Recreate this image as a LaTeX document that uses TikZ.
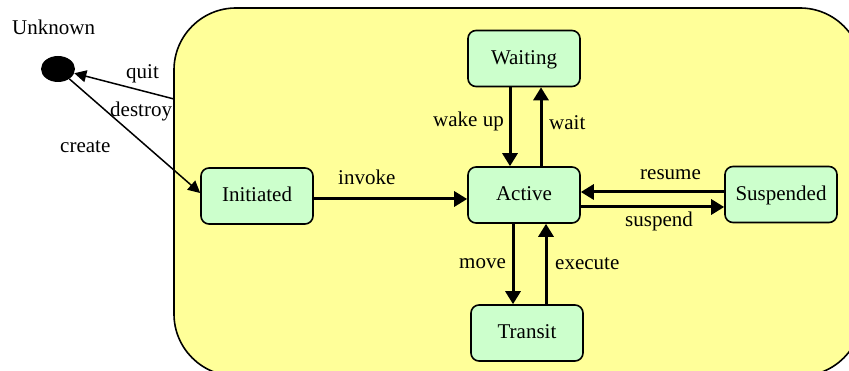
\documentclass[tikz,border=0pt]{standalone}
\usepackage{fontspec}
\setmainfont{Liberation Serif}
\usetikzlibrary{arrows.meta,shapes.geometric}
\definecolor{sysfill}{HTML}{FFFF99}
\definecolor{statefill}{HTML}{CCFFCC}
\begin{document}
\begin{tikzpicture}[x=1pt,y=-1pt,
  font=\fontsize{21}{24}\selectfont,
  state/.style={draw, line width=1.6pt, rounded corners=8pt, fill=statefill,
    minimum width=112pt, minimum height=56pt, inner sep=0pt,
    text height=14pt, text depth=2.5pt},
  trans/.style={line width=3pt, -{Triangle[length=13pt,width=15pt]}},
  thinarrow/.style={line width=1.5pt, -{Triangle[length=12pt,width=12pt]}},
  lbl/.style={anchor=base west, inner sep=0pt}]
\useasboundingbox (0,0) rectangle (849,371);
\clip (0,0) rectangle (849,371);
\fill[white] (0,0) rectangle (849,371);

% enclosing composite state
\node[draw, line width=1.6pt, fill=sysfill, rounded corners=62pt,
  minimum width=688pt, minimum height=368pt, inner sep=0pt] (system) at (518,192) {};

% states
\node[state] (waiting)   at (524,58.5)  {Waiting};
\node[state] (active)    at (524,195)   {Active};
\node[state] (suspended) at (781,194.5) {Suspended};
\node[state] (transit)   at (527,333)   {Transit};
\node[state] (initiated) at (257,196)   {Initiated};

% outside pseudo-state
\node[ellipse, fill=black, minimum width=34pt, minimum height=26pt, inner sep=0pt]
  (unknown) at (58,69) {};
\node[lbl] (unknownlabel) at (12,34.5) {Unknown};

% transitions
\coordinate (exitpt) at (174,99);
\draw[thinarrow] (exitpt) -- (unknown);
\draw[thinarrow] (unknown) -- ([yshift=3pt]initiated.west);

\coordinate (inv) at ([yshift=-3pt]initiated.east);
\draw[trans] (inv) -- (inv -| active.west);

\draw[trans] ([xshift=-14pt]waiting.south) -- ([xshift=-14pt]active.north);
\draw[trans] ([xshift=17pt]active.north) -- ([xshift=17pt]waiting.south);

\coordinate (res) at ([yshift=3pt]active.east);
\draw[trans] (res -| suspended.west) -- (res);
\coordinate (sus) at ([yshift=-12pt]active.east);
\draw[trans] (sus) -- (sus -| suspended.west);

\coordinate (mov) at ([xshift=-11pt]active.south);
\draw[trans] (mov) -- (mov |- transit.north);
\coordinate (exe) at ([xshift=22pt]active.south);
\draw[trans] (exe |- transit.north) -- (exe);

% transition labels
\node[lbl] (lquit)    at (126,78.5)  {quit};
\node[lbl] (ldestroy) at (110,116.5) {destroy};
\node[lbl] (lcreate)  at (60,152.5)  {create};
\node[lbl] (linvoke)  at (338,184.5) {invoke};
\node[lbl] (lwake)    at (433,126.5) {wake up};
\node[lbl] (lwait)    at (549,129.5) {wait};
\node[lbl] (lresume)  at (640,179.5) {resume};
\node[lbl] (lsuspend) at (625,226.5) {suspend};
\node[lbl] (lmove)    at (459,268.5) {move};
\node[lbl] (lexecute) at (555,269.5) {execute};
\end{tikzpicture}
\end{document}
